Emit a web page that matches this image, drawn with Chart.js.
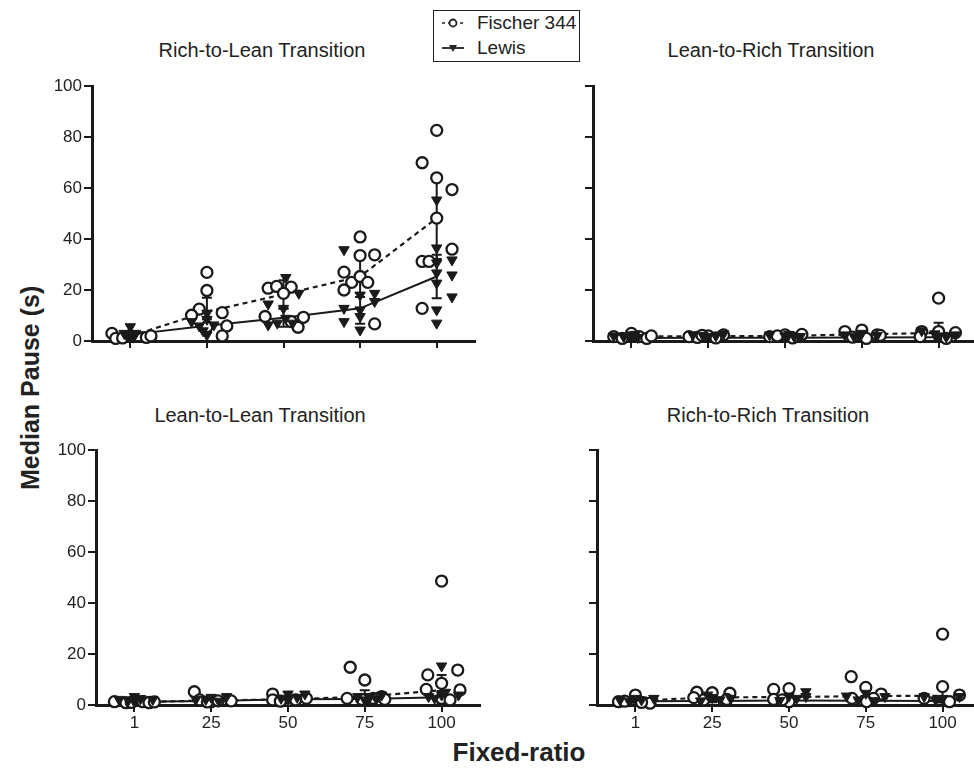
<!DOCTYPE html>
<html>
<head>
<meta charset="utf-8">
<title>Median Pause by Fixed-ratio</title>
<script src="https://cdn.jsdelivr.net/npm/chart.js@4.4.0/dist/chart.umd.min.js"></script>
<style>
  html, body {
    margin: 0;
    padding: 0;
    width: 974px;
    height: 768px;
    overflow: hidden;
    background: #fff;
  }
  body {
    position: relative;
    font-family: Arial, "Liberation Sans", Helvetica, sans-serif;
    color: #222;
  }
  canvas {
    position: absolute;
  }
  .title {
    position: absolute;
    width: 400px;
    text-align: center;
    font-size: 20px;
    line-height: 20px;
    white-space: nowrap;
  }
  .axis-title {
    position: absolute;
    font-weight: bold;
    white-space: nowrap;
    text-align: center;
  }
  #legend {
    position: absolute;
    left: 433px;
    top: 10px;
    width: 145px;
    height: 50px;
    border: 1.5px solid #222;
    font-size: 19px;
  }
  #legend .row {
    position: absolute;
    left: 0;
    height: 24px;
    line-height: 24px;
  }
  #legend svg {
    position: absolute;
    left: 6px;
    top: 2px;
  }
  #legend span {
    position: absolute;
    left: 43px;
    white-space: nowrap;
  }
</style>
</head>
<body>

<div class="title" style="left:62px; top:40px;">Rich-to-Lean Transition</div>
<div class="title" style="left:571px; top:40px;">Lean-to-Rich Transition</div>
<div class="title" style="left:60px; top:405px;">Lean-to-Lean Transition</div>
<div class="title" style="left:568px; top:405px;">Rich-to-Rich Transition</div>

<div id="legend">
  <div class="row" style="top:0px;">
    <svg width="26" height="20">
      <line x1="2" y1="10" x2="24" y2="10" stroke="#222" stroke-width="1.5" stroke-dasharray="3,3"></line>
      <circle cx="13" cy="10" r="3.5" fill="#fff" stroke="#222" stroke-width="1.8"></circle>
    </svg>
    <span>Fischer 344</span>
  </div>
  <div class="row" style="top:25px;">
    <svg width="26" height="20">
      <line x1="2" y1="10" x2="24" y2="10" stroke="#222" stroke-width="1.8"></line>
      <polygon points="9,7 17,7 13,14" fill="#222"></polygon>
    </svg>
    <span>Lewis</span>
  </div>
</div>

<div class="axis-title" style="left:-70px; top:376px; width:200px; font-size:25px; line-height:28px; transform:rotate(-90deg);">Median Pause (s)</div>
<div class="axis-title" style="left:419px; top:737px; width:200px; font-size:26px; line-height:30px;">Fixed-ratio</div>

<canvas id="chartRichLean" width="485" height="285" style="left:0px; top:70px;"></canvas>
<canvas id="chartLeanRich" width="490" height="285" style="left:500px; top:70px;"></canvas>
<canvas id="chartLeanLean" width="490" height="300" style="left:0px; top:434px;"></canvas>
<canvas id="chartRichRich" width="490" height="300" style="left:500px; top:434px;"></canvas>

<script>
// Fixed-ratio categories on the x axis
const ratios = ["1", "25", "50", "75", "100"];

// Median pause ticks on the y axis
const yTicks = [0, 20, 40, 60, 80, 100];

// ---- Rich-to-Lean transition ----
// Fischer 344 rats, one list per fixed-ratio
const rlFischer = [
  [3.0, 1.0, 1.2, 2.0, 1.4, 2.0],
  [26.9, 19.8, 12.5, 10.1, 11.1, 5.9, 2.0, 5.6],
  [20.7, 21.4, 21.1, 18.7, 9.6, 7.6, 5.4, 9.3],
  [40.8, 33.5, 33.8, 27.0, 23.0, 25.3, 23.0, 20.0, 6.7],
  [82.6, 69.9, 64.0, 59.4, 48.2, 36.0, 31.2, 31.2, 12.8],
];
// Horizontal scatter offset of each Fischer point (in category units)
const rlFischerDx = [
  [-0.24, -0.19, -0.1, 0, 0.21, 0.27],
  [0, 0, -0.1, -0.2, 0.2, 0.26, 0.2, 0],
  [-0.2, -0.09, 0.1, 0, -0.24, 0.1, 0.19, 0.26],
  [0, 0, 0.19, -0.21, -0.11, 0, 0.1, -0.21, 0.19],
  [0, -0.19, 0, 0.2, 0, 0.2, -0.19, -0.1, -0.19],
];
// Lewis rats
const rlLewis = [
  [5.6, 3.0, 3.0, 1.7, 2.2, 1.5],
  [7.6, 5.9, 10.9, 8.5, 2.4, 6.3, 4.0],
  [14.5, 6.3, 7.0, 24.9, 12.8, 7.0, 18.7, 8.9],
  [35.8, 12.8, 7.6, 18.0, 12.2, 4.3, 18.7, 15.5, 9.6],
  [55.3, 36.5, 30.6, 26.7, 22.7, 12.2, 7.0, 31.8, 25.9, 17.3],
];
const rlLewisDx = [
  [0, -0.08, 0.07, 0, -0.04, 0.04],
  [-0.2, -0.1, 0, 0, 0, 0.09, -0.05],
  [-0.2, -0.2, -0.08, 0.03, 0, 0.12, 0.2, 0.03],
  [-0.21, -0.21, -0.21, 0, 0, 0, 0.19, 0.19, 0],
  [0, 0, 0, 0, 0, 0, 0, 0.2, 0.2, 0.2],
];
// Group means and error bar half-widths
const rlFischerMean = [1.9, 11.5, 18.3, 25.3, 48.2];
const rlFischerErr = [0.8, 5.5, 5.5, 8.0, 16.0];
const rlLewisMean = [2.5, 6.0, 9.1, 12.8, 25.3];
const rlLewisErr = [1.2, 2.5, 3.5, 6.0, 8.5];

// ---- Lean-to-Rich transition ----
const lrFischer = [
  [1.7, 1.0, 3.0, 1.7, 1.0, 2.0],
  [1.7, 1.4, 2.0, 2.4, 1.2, 2.2],
  [1.7, 2.4, 1.7, 1.2, 2.0, 2.6],
  [3.7, 4.3, 2.4, 1.0, 1.5, 2.2],
  [16.8, 3.7, 3.7, 3.3, 1.7, 1.0],
];
const lrFischerDx = [
  [-0.23, -0.12, 0, 0.1, 0.2, 0.26],
  [-0.25, -0.14, 0, 0.2, 0.1, -0.08],
  [-0.2, 0, 0.2, 0.1, -0.1, 0.22],
  [-0.22, 0, 0.2, 0.06, -0.12, 0.24],
  [0, -0.22, 0, 0.22, -0.24, 0.1],
];
const lrLewis = [
  [2.0, 2.4, 1.4, 1.7, 2.6],
  [2.4, 1.7, 2.8, 2.0, 2.2],
  [2.4, 2.0, 1.7, 2.6, 1.8],
  [2.4, 3.0, 1.7, 2.2],
  [4.0, 2.0, 2.4, 2.8, 1.6],
];
const lrLewisDx = [
  [-0.23, 0, 0.08, -0.1, 0.05],
  [-0.2, 0, 0.2, 0.1, -0.07],
  [-0.2, 0, 0.12, 0.05, 0.2],
  [-0.22, 0, -0.1, 0.2],
  [-0.22, 0, 0.22, -0.05, 0.1],
];
const lrFischerMean = [1.8, 1.9, 2.0, 2.6, 3.2];
const lrFischerErr = [0.6, 0.5, 0.5, 1.0, 4.0];
const lrLewisMean = [1.2, 1.3, 1.3, 1.4, 1.5];
const lrLewisErr = [0.5, 0.5, 0.5, 0.6, 0.8];

// ---- Lean-to-Lean transition ----
const llFischer = [
  [1.3, 0.9, 1.3, 0.9, 1.0, 1.2],
  [5.2, 2.0, 1.3, 1.6, 1.6, 1.2],
  [4.3, 2.0, 1.7, 2.0, 2.6, 1.5],
  [14.8, 9.8, 2.6, 2.2, 2.6, 3.3, 2.2],
  [48.6, 11.8, 13.7, 6.1, 8.5, 5.9, 2.6, 2.0],
];
const llFischerDx = [
  [-0.26, -0.11, 0.11, 0.19, -0.04, 0.26],
  [-0.22, -0.15, 0, 0.09, 0.26, -0.05],
  [-0.2, -0.2, 0, 0.1, 0.24, -0.1],
  [-0.19, 0, -0.23, -0.04, 0.11, 0.22, 0.26],
  [0, -0.18, 0.21, -0.2, 0, 0.24, 0, 0.11],
];
const llLewis = [
  [2.2, 3.3, 1.3, 2.2, 2.5, 1.8],
  [3.0, 3.3, 2.2, 2.2, 1.5],
  [4.3, 4.3, 2.6, 2.0, 3.0],
  [2.0, 3.9, 3.3, 3.3, 2.4],
  [15.3, 3.9, 3.3, 3.9, 2.6, 5.0],
];
const llLewisDx = [
  [-0.2, 0, 0, 0.24, 0.08, -0.08],
  [0, 0.2, -0.07, -0.2, 0.1],
  [0, 0.22, -0.09, 0, 0.12],
  [0, 0.22, -0.09, 0.07, 0.15],
  [0, 0, -0.17, 0.22, -0.09, 0.05],
];
const llFischerMean = [1.1, 1.8, 2.2, 3.3, 5.8];
const llFischerErr = [0.3, 1.0, 0.8, 2.5, 6.0];
const llLewisMean = [1.3, 1.6, 2.3, 2.4, 3.0];
const llLewisErr = [0.5, 0.6, 0.8, 0.7, 2.5];

// ---- Rich-to-Rich transition ----
const rrFischer = [
  [3.9, 1.3, 0.7, 1.5, 1.0],
  [5.0, 4.8, 4.6, 2.9, 2.0, 2.2],
  [6.1, 6.4, 2.2, 1.3, 2.0],
  [11.1, 6.9, 4.3, 2.6, 2.6, 1.3],
  [27.8, 7.2, 3.9, 2.6, 1.3],
];
const rrFischerDx = [
  [0, -0.22, 0.19, -0.14, 0.08],
  [-0.2, 0, 0.23, -0.24, -0.11, 0.19],
  [-0.2, 0, -0.2, 0, -0.09],
  [-0.19, 0, 0.2, 0.1, -0.18, 0.01],
  [0, 0, 0.22, -0.24, 0.09],
];
const rrLewis = [
  [2.0, 2.6, 2.0, 2.6, 1.5],
  [2.9, 3.9, 2.0, 2.6, 1.6],
  [5.2, 3.3, 3.5, 2.6, 1.8],
  [3.5, 4.6, 2.0, 3.3, 1.7],
  [3.3, 3.3, 2.6, 2.0],
];
const rrLewisDx = [
  [-0.2, 0, 0.08, 0.24, -0.08],
  [0, -0.06, 0.1, 0.24, -0.15],
  [0.22, 0.22, 0, 0.1, -0.12],
  [-0.25, 0, -0.1, 0.25, 0.1],
  [0.22, -0.24, 0, -0.09],
];
const rrFischerMean = [1.7, 3.0, 3.1, 3.5, 3.6];
const rrFischerErr = [0.8, 0.8, 1.2, 2.0, 4.0];
const rrLewisMean = [1.5, 1.6, 1.8, 1.7, 1.6];
const rrLewisErr = [0.4, 0.5, 0.8, 0.8, 0.6];

// Ink colour used for every mark
const ink = "#1a1a1a";

Chart.defaults.font.family = 'Arial, "Liberation Sans", Helvetica, sans-serif';
Chart.defaults.font.size = 17;
Chart.defaults.color = "#222";

// Draws vertical error bars (with caps) for any dataset that carries "errors"
const errorBarPlugin = {
  id: "errorBars",
  beforeDatasetsDraw(chart) {
    const ctx = chart.ctx;
    const xScale = chart.scales.x;
    const yScale = chart.scales.y;
    ctx.save();
    ctx.strokeStyle = ink;
    ctx.lineWidth = 2;
    chart.data.datasets.forEach(function (ds) {
      if (!ds.errors) return;
      ds.data.forEach(function (pt, i) {
        const err = ds.errors[i];
        const px = xScale.getPixelForValue(pt.x);
        const top = yScale.getPixelForValue(pt.y + err);
        const bottom = yScale.getPixelForValue(Math.max(pt.y - err, 0));
        ctx.beginPath();
        ctx.moveTo(px, top);
        ctx.lineTo(px, bottom);
        ctx.moveTo(px - 5, top);
        ctx.lineTo(px + 5, top);
        ctx.moveTo(px - 5, bottom);
        ctx.lineTo(px + 5, bottom);
        ctx.stroke();
      });
    });
    ctx.restore();
  },
};

/**
 * Turns grouped values and their offsets into scatter points
 * @param  {Array} groups  One list of values per fixed-ratio
 * @param  {Array} offsets Horizontal offsets matching the values
 * @return {Array} Points for Chart.js
 */
function toPoints(groups, offsets) {
  let points = [];
  groups.forEach(function (vals, i) {
    vals.forEach(function (v, j) {
      points.push({ x: i + offsets[i][j], y: v });
    });
  });
  return points;
}

/**
 * Builds one panel of the figure
 * @param {String} id     Canvas id
 * @param {Object} d      Panel data (points, means, errors)
 * @param {Object} layout Axis sizes and which tick labels are shown
 */
function makePanel(id, d, layout) {
  const ctx = document.getElementById(id).getContext("2d");
  return new Chart(ctx, {
    type: "scatter",
    data: {
      datasets: [
        // Lewis individual rats (drawn on top)
        {
          data: toPoints(d.lewis, d.lewisDx),
          pointStyle: "triangle",
          rotation: 180,
          pointRadius: 6,
          backgroundColor: ink,
          borderColor: ink,
          borderWidth: 1,
          clip: false,
          order: 0,
        },
        // Fischer 344 individual rats
        {
          data: toPoints(d.fischer, d.fischerDx),
          pointStyle: "circle",
          pointRadius: 5.5,
          backgroundColor: "#fff",
          borderColor: ink,
          borderWidth: 2.3,
          clip: false,
          order: 1,
        },
        // Lewis mean line
        {
          data: d.lewisMean.map((v, i) => ({ x: i, y: v })),
          errors: d.lewisErr,
          showLine: true,
          borderColor: ink,
          borderWidth: 2,
          pointRadius: 0,
          clip: false,
          order: 2,
        },
        // Fischer 344 mean line (dashed)
        {
          data: d.fischerMean.map((v, i) => ({ x: i, y: v })),
          errors: d.fischerErr,
          showLine: true,
          borderColor: ink,
          borderWidth: 2.2,
          borderDash: [5, 4],
          pointRadius: 0,
          clip: false,
          order: 3,
        },
      ],
    },
    options: {
      responsive: false,
      animation: false,
      layout: {
        padding: { top: 16, right: layout.right, left: 0, bottom: 0 },
      },
      plugins: {
        legend: { display: false },
        tooltip: { enabled: false },
      },
      scales: {
        x: {
          type: "linear",
          min: -0.5,
          max: 4.5,
          afterBuildTicks: function (scale) {
            scale.ticks = ratios.map((r, i) => ({ value: i }));
          },
          afterFit: function (scale) {
            scale.height = layout.xHeight;
          },
          ticks: {
            display: layout.xLabels,
            padding: 1,
            maxRotation: 0,
            callback: (v) => ratios[Math.round(v)],
          },
          grid: {
            drawOnChartArea: false,
            drawTicks: true,
            tickLength: 7,
            color: ink,
            lineWidth: 2,
          },
          border: { display: true, color: ink, width: 3 },
        },
        y: {
          min: 0,
          max: 100,
          afterBuildTicks: function (scale) {
            scale.ticks = yTicks.map((v) => ({ value: v }));
          },
          afterFit: function (scale) {
            scale.width = layout.yWidth;
          },
          ticks: {
            display: layout.yLabels,
            padding: 2,
          },
          grid: {
            drawOnChartArea: false,
            drawTicks: true,
            tickLength: 8,
            color: ink,
            lineWidth: 2,
          },
          border: { display: true, color: ink, width: 3 },
        },
      },
    },
    plugins: [errorBarPlugin],
  });
}

makePanel(
  "chartRichLean",
  {
    fischer: rlFischer, fischerDx: rlFischerDx, fischerMean: rlFischerMean, fischerErr: rlFischerErr,
    lewis: rlLewis, lewisDx: rlLewisDx, lewisMean: rlLewisMean, lewisErr: rlLewisErr,
  },
  { yWidth: 92, xHeight: 14, right: 10, xLabels: false, yLabels: true }
);

makePanel(
  "chartLeanRich",
  {
    fischer: lrFischer, fischerDx: lrFischerDx, fischerMean: lrFischerMean, fischerErr: lrFischerErr,
    lewis: lrLewis, lewisDx: lrLewisDx, lewisMean: lrLewisMean, lewisErr: lrLewisErr,
  },
  { yWidth: 93, xHeight: 14, right: 13, xLabels: false, yLabels: false }
);

makePanel(
  "chartLeanLean",
  {
    fischer: llFischer, fischerDx: llFischerDx, fischerMean: llFischerMean, fischerErr: llFischerErr,
    lewis: llLewis, lewisDx: llLewisDx, lewisMean: llLewisMean, lewisErr: llLewisErr,
  },
  { yWidth: 96, xHeight: 29, right: 10, xLabels: true, yLabels: true }
);

makePanel(
  "chartRichRich",
  {
    fischer: rrFischer, fischerDx: rrFischerDx, fischerMean: rrFischerMean, fischerErr: rrFischerErr,
    lewis: rrLewis, lewisDx: rrLewisDx, lewisMean: rrLewisMean, lewisErr: rrLewisErr,
  },
  { yWidth: 97, xHeight: 29, right: 9, xLabels: true, yLabels: false }
);
</script>
</body>
</html>
